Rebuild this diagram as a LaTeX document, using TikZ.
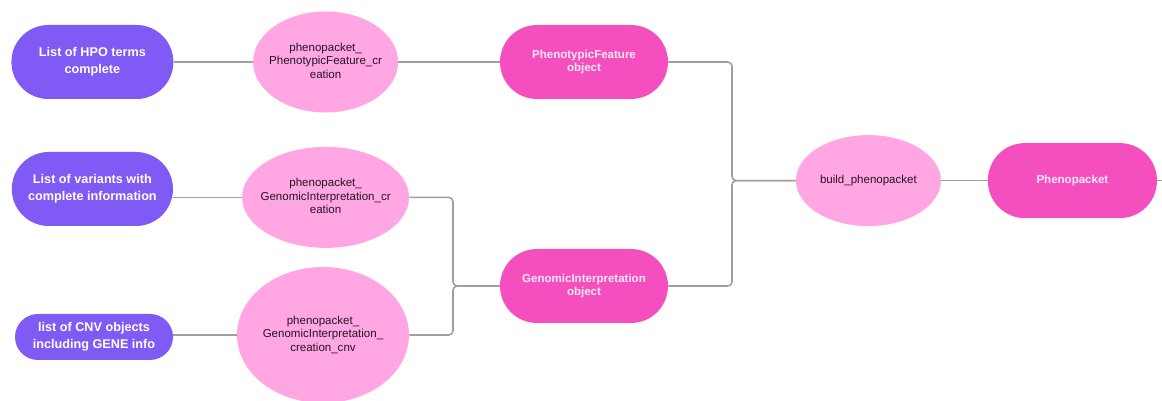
\documentclass[tikz,border=0pt]{standalone}
\usepackage{fontspec}
\setsansfont{Liberation Sans}
\usetikzlibrary{shapes.geometric}
\definecolor{input color}{RGB}{128,90,245}
\definecolor{func color}{RGB}{255,166,227}
\definecolor{object color}{RGB}{245,78,190}
\definecolor{link color}{RGB}{160,160,160}

% keep ellipse size independent of its text
\newcommand{\squeeze}[1]{\makebox[0pt]{\begin{tabular}{@{}c@{}}#1\end{tabular}}}

\begin{document}
\begin{tikzpicture}[
	font=\sffamily,
	input/.style={rectangle, fill=input color, text=white, inner sep=0pt,
		minimum width=4.05cm, minimum height=1.85cm, rounded corners=0.925cm,
		align=center, font=\sffamily\bfseries\fontsize{9}{12}\selectfont},
	func/.style={ellipse, fill=func color, text={rgb,255:red,35;green,20;blue,35}, inner sep=0pt,
		font=\sffamily\fontsize{8.2}{9.6}\selectfont},
	object/.style={rectangle, fill=object color, text={rgb,255:red,255;green,235;blue,248}, inner sep=0pt,
		minimum width=4.2cm, minimum height=1.85cm, rounded corners=0.925cm,
		align=center, font=\sffamily\bfseries\fontsize{8.2}{8.8}\selectfont},
	link/.style={draw=link color, line width=1.1pt, rounded corners=3pt}]

\useasboundingbox (0,0) rectangle (29.05,10.025);

% Inputs
\node (hpo) at (2.31,8.475) [input] {List of HPO terms\\complete};
\node (variants) at (2.31,5.3) [input, minimum width=4.03cm] {List of variants with\\complete information};
\node (cnv) at (2.35,1.6) [input, minimum width=3.95cm, minimum height=1.15cm, rounded corners=0.575cm]
	{list of CNV objects\\including GENE info};

% Functions
\node (pfcreate) at (8.14,8.475) [func, minimum width=3.625cm, minimum height=2.525cm]
	{\squeeze{phenopacket\_\\PhenotypicFeature\_cr\\eation}};
\node (gicreate) at (8.14,5.09) [func, minimum width=4.175cm, minimum height=2.525cm]
	{\squeeze{phenopacket\_\\GenomicInterpretation\_cr\\eation}};
\node (cnvcreate) at (8.075,1.65) [func, minimum width=4.3cm, minimum height=3.4cm]
	{\squeeze{phenopacket\_\\GenomicInterpretation\_\\creation\_cnv}};
\node (build) at (21.71,5.51) [func, minimum width=3.625cm, minimum height=2.275cm]
	{\squeeze{build\_phenopacket}};

% Objects
\node (pf) at (14.6,8.475) [object] {PhenotypicFeature\\object};
\node (gi) at (14.6,2.875) [object] {GenomicInterpretation\\object};
\node (pheno) at (26.81,5.51) [object, minimum width=4.225cm, minimum height=1.875cm] {Phenopacket};

% Joins
\coordinate (gjoin) at (11.325,2.875);
\coordinate (bjoin) at (18.3,5.51);
\coordinate (out) at (29.05,5.51);

% Links
\draw [link] (hpo) -- (pfcreate);
\draw [link] (variants.east |- gicreate) -- (gicreate);
\draw [link] (cnv.east |- cnvcreate) -- (cnvcreate);
\draw [link] (pfcreate) -- (pf);
\draw [link] (gicreate.east) -| (gjoin) -- (gi.west);
\draw [link] (cnvcreate.east) -| (gjoin) -- (gi.west);
\draw [link] (pf.east) -| (bjoin) -- (build.west);
\draw [link] (gi.east) -| (bjoin) -- (build.west);
\draw [link] (build) -- (pheno);
\draw [link] (pheno) -- (out);

\end{tikzpicture}
\end{document}
